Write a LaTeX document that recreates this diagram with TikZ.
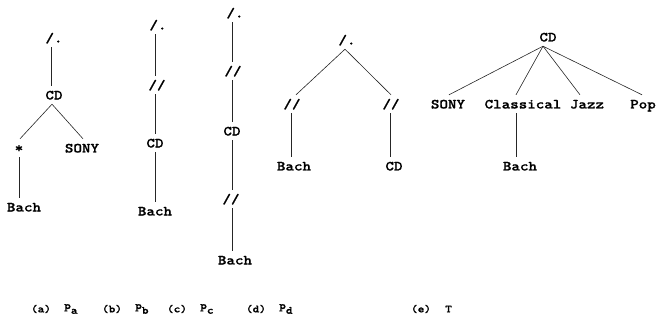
\documentclass[tikz,border=0pt]{standalone}
\usepackage{fontspec}
\newfontfamily\courfont{lmmonolt10-bold.otf}[FakeStretch=1.16,FakeBold=0.9]
\begin{document}
\begin{tikzpicture}[x=1pt,y=-1pt,
  tn/.style={font=\courfont\fontsize{14}{15}\selectfont, inner sep=0pt, text height=9pt, text depth=0pt, minimum height=18pt},
  captxt/.style={font=\courfont\fontsize{11}{12}\selectfont, inner sep=0pt},
  conn/.style={line width=0.6pt, draw=black!85}]
\useasboundingbox (0,0) rectangle (657,329);
% (a)
\node[tn] (a1) at (54,38) {/.};
\node[tn] (a2) at (54,95) {CD};
\node[tn] (a3) at (19,148) {*};
\node[tn] (a4) at (82,148) {SONY};
\node[tn] (a5) at (24,207) {Bach};
\draw[conn] (a1.south -| 51,0) -- (a2.north -| 51,0);
\draw[conn] (a2.south -| 52,0) -- (a3.north -| 20,0);
\draw[conn] (a2.south -| 52,0) -- (a4.north -| 83,0);
\draw[conn] (a3.south -| 19,0) -- (a5.north -| 19,0);
% (b)
\node[tn] (b1) at (158,25) {/.};
\node[tn] (b2) at (157,85) {//};
\node[tn] (b3) at (155,143) {CD};
\node[tn] (b4) at (155,211) {Bach};
\draw[conn] (b1.south -| 155,0) -- (b2.north -| 155,0);
\draw[conn] (b2.south -| 155,0) -- (b3.north -| 155,0);
\draw[conn] (b3.south -| 155,0) -- (b4.north -| 155,0);
% (c)
\node[tn] (c1) at (235,13) {/.};
\node[tn] (c2) at (233,71) {//};
\node[tn] (c3) at (232,131) {CD};
\node[tn] (c4) at (231,199) {//};
\node[tn] (c5) at (235,260) {Bach};
\draw[conn] (c1.south -| 232,0) -- (c2.north -| 232,0);
\draw[conn] (c2.south -| 232,0) -- (c3.north -| 232,0);
\draw[conn] (c3.south -| 232,0) -- (c4.north -| 232,0);
\draw[conn] (c4.south -| 232,0) -- (c5.north -| 232,0);
% (d)
\node[tn] (d1) at (347,40) {/.};
\node[tn] (d2) at (292,104) {//};
\node[tn] (d3) at (391,104) {//};
\node[tn] (d4) at (294,166) {Bach};
\node[tn] (d5) at (394,166) {CD};
\draw[conn] (d1.south -| 345,0) -- (d2.north -| 296,0);
\draw[conn] (d1.south -| 345,0) -- (d3.north -| 391,0);
\draw[conn] (d2.south -| 291,0) -- (d4.north -| 291,0);
\draw[conn] (d3.south -| 390,0) -- (d5.north -| 390,0);
% (e)
\node[tn] (e1) at (548,37) {CD};
\node[tn] (e2) at (448,104) {SONY};
\node[tn] (e3) at (523,104) {Classical};
\node[tn] (e4) at (587,104) {Jazz};
\node[tn] (e5) at (643,104) {Pop};
\node[tn] (e6) at (520,166) {Bach};
\draw[conn] (e1.south -| 543,0) -- (e2.north -| 449,0);
\draw[conn] (e1.south -| 543,0) -- (e3.north -| 516,0);
\draw[conn] (e1.south -| 543,0) -- (e4.north -| 580,0);
\draw[conn] (e1.south -| 543,0) -- (e5.north -| 642,0);
\draw[conn] (e3.south -| 516,0) -- (e6.north -| 516,0);
% captions
\node[captxt] (la) at (41,309) {(a)};
\node[captxt,anchor=west] (pa) at (64,309) {p\raisebox{-1.0ex}{a}};
\node[captxt] (lb) at (112,309) {(b)};
\node[captxt,anchor=west] (pb) at (135,309) {p\raisebox{-1.0ex}{b}};
\node[captxt] (lc) at (177,309) {(c)};
\node[captxt,anchor=west] (pc) at (200,309) {p\raisebox{-1.0ex}{c}};
\node[captxt] (ld) at (256,309) {(d)};
\node[captxt,anchor=west] (pd) at (279,309) {p\raisebox{-1.0ex}{d}};
\node[captxt] (le) at (421,309) {(e)};
\node[captxt,anchor=west] (pe) at (445,309) {T};
\end{tikzpicture}
\end{document}
